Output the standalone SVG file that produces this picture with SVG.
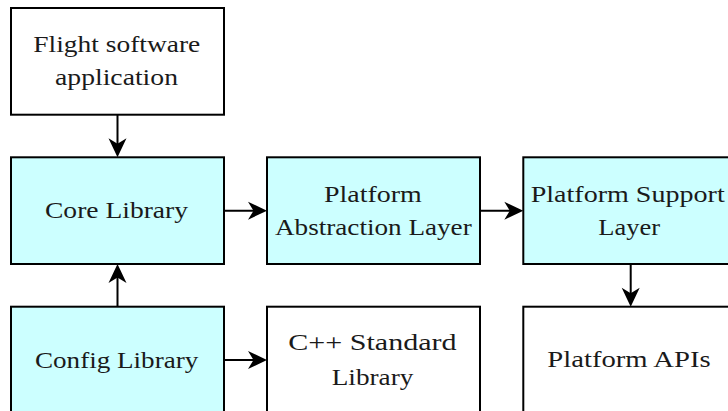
<svg xmlns="http://www.w3.org/2000/svg" width="728" height="411" viewBox="0 0 728 411">
<defs>
<style>
.box{stroke:#000;stroke-width:2}
.hl{fill:#ccffff}
.pl{fill:#fff}
.t{font-family:"Liberation Serif","Times New Roman",serif;font-size:24px;fill:#1a1a1a}
.c{stroke:#000;stroke-width:2;fill:none;marker-end:url(#ah)}
</style>
<marker id="ah" markerUnits="userSpaceOnUse" viewBox="-21 -10 23 20" markerWidth="23" markerHeight="20" refX="-7" refY="0" orient="auto" overflow="visible">
<path d="M0,0 L-19,-9 L-13.5,0 L-19,9 Z" fill="#000"/>
</marker>
</defs>
<rect width="728" height="411" fill="#fff"/>
<g id="connectors">
<path class="c" d="M117.5,114.7 V150.3"/>
<path class="c" d="M224,210.7 H260"/>
<path class="c" d="M480,210.7 H516.3"/>
<path class="c" d="M630.7,264 V299.7"/>
<path class="c" d="M117.5,306.7 V271"/>
<path class="c" d="M224,360 H260"/>
</g>
<g id="flight">
<rect class="box pl" x="11" y="8" width="213" height="106.7"/>
<text class="t" x="33.3" y="52" textLength="167" lengthAdjust="spacingAndGlyphs">Flight software</text>
<text class="t" x="55" y="85" textLength="123" lengthAdjust="spacingAndGlyphs">application</text>
</g>
<g id="core">
<rect class="box hl" x="11" y="157.3" width="213" height="106.7"/>
<text class="t" x="45" y="218.3" textLength="143" lengthAdjust="spacingAndGlyphs">Core Library</text>
</g>
<g id="pal">
<rect class="box hl" x="267" y="157.3" width="213" height="106.7"/>
<text class="t" x="324" y="201.7" textLength="97.7" lengthAdjust="spacingAndGlyphs">Platform</text>
<text class="t" x="275" y="235" textLength="196.7" lengthAdjust="spacingAndGlyphs">Abstraction Layer</text>
</g>
<g id="psl">
<rect class="box hl" x="523.3" y="157.3" width="213" height="106.7"/>
<text class="t" x="530.7" y="201.7" textLength="194" lengthAdjust="spacingAndGlyphs">Platform Support</text>
<text class="t" x="598.3" y="235" textLength="61.7" lengthAdjust="spacingAndGlyphs">Layer</text>
</g>
<g id="config">
<rect class="box hl" x="11" y="306.7" width="213" height="106.7"/>
<text class="t" x="35" y="368.3" textLength="163.3" lengthAdjust="spacingAndGlyphs">Config Library</text>
</g>
<g id="cpp">
<rect class="box pl" x="267" y="306.7" width="213" height="106.7"/>
<text class="t" x="288.3" y="350" textLength="168.3" lengthAdjust="spacingAndGlyphs">C++ Standard</text>
<text class="t" x="331.7" y="385" textLength="81.7" lengthAdjust="spacingAndGlyphs">Library</text>
</g>
<g id="apis">
<rect class="box pl" x="523.3" y="306.7" width="213" height="106.7"/>
<text class="t" x="547.3" y="366.7" textLength="163.3" lengthAdjust="spacingAndGlyphs">Platform APIs</text>
</g>
</svg>
